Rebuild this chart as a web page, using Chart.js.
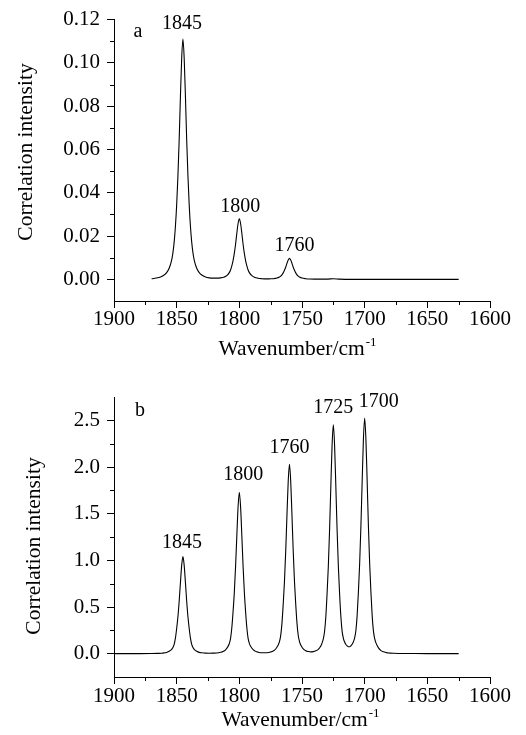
<!DOCTYPE html>
<html>
<head>
<meta charset="utf-8">
<script src="https://cdn.jsdelivr.net/npm/chart.js@4/dist/chart.umd.min.js"></script>
<style>
  html, body { margin: 0; padding: 0; background: #fff; }
  #wrap { position: relative; width: 526px; height: 735px; }
  canvas { position: absolute; left: 0; }
</style>
</head>
<body>
<div id="wrap">
  <canvas id="chartA" width="526" height="368" style="top:0"></canvas>
  <canvas id="chartB" width="526" height="367" style="top:368px"></canvas>
</div>
<script>
// tick values shared by both panels
const xTicks = [1900, 1850, 1800, 1750, 1700, 1650, 1600];
const yTicksA = [0, 0.02, 0.04, 0.06, 0.08, 0.10, 0.12];
const yTicksB = [0, 0.5, 1.0, 1.5, 2.0, 2.5];

// panel a : wavenumber / correlation intensity
const waveA = [
  1870, 1865, 1862, 1860, 1858, 1856, 1854,
  1853, 1852, 1851, 1850, 1849, 1848, 1847, 1846, 1845, 1844, 1843, 1842, 1841, 1840, 1839, 1838, 1837, 1836,
  1834, 1832, 1830, 1827, 1824, 1821, 1818, 1815, 1812, 1810, 1808,
  1807, 1806, 1805, 1804, 1803, 1802, 1801, 1800, 1799, 1798, 1797, 1796, 1795, 1794, 1793,
  1792, 1790, 1788, 1785, 1782, 1779, 1776, 1773, 1770, 1768,
  1767, 1766, 1765, 1764, 1763, 1762, 1761, 1760, 1759, 1758, 1757, 1756, 1755, 1754, 1753, 1752,
  1750, 1747, 1744, 1740, 1730, 1725, 1720, 1710, 1690, 1670, 1650, 1625
];
const intensityA = [
  0.0003, 0.0007, 0.0013, 0.002, 0.0031, 0.0051, 0.0089,
  0.0122, 0.0172, 0.0244, 0.0344, 0.0477, 0.0644, 0.0844, 0.1021, 0.111, 0.1021, 0.0844, 0.0644, 0.0477, 0.0344, 0.0244, 0.0172, 0.0122, 0.0089,
  0.0051, 0.0031, 0.002, 0.0011, 0.0007, 0.00055, 0.00055, 0.0007, 0.0011, 0.0017, 0.0031,
  0.0043, 0.0062, 0.0087, 0.012, 0.0162, 0.0213, 0.0258, 0.028, 0.0258, 0.0213, 0.0162, 0.012, 0.0087, 0.0062, 0.0043,
  0.0031, 0.0017, 0.001, 0.0005, 0.0003, 0.0002, 0.00024, 0.0003, 0.0006, 0.0011,
  0.0015, 0.0021, 0.003, 0.0042, 0.0056, 0.0074, 0.0089, 0.0097, 0.0089, 0.0074, 0.0056, 0.0042, 0.003, 0.0021, 0.0015, 0.0011,
  0.0006, 0.0003, 0.00014, 0.0001, 0.0001, 0.0003, 0.0001, 0, 0, 0, 0, 0
];
const peaksA = [1845, 1800, 1760];

// panel b
const waveB = [
  1900, 1880, 1870, 1865, 1862, 1860, 1858, 1856, 1854,
  1853, 1852, 1851, 1850, 1849, 1848, 1847, 1846, 1845, 1844, 1843, 1842, 1841, 1840, 1839, 1838, 1837, 1836,
  1834, 1832, 1830, 1827, 1824, 1821, 1818, 1815, 1813, 1811, 1809,
  1808, 1807, 1806, 1805, 1804, 1803, 1802, 1801, 1800, 1799, 1798, 1797, 1796, 1795, 1794, 1793, 1792, 1791,
  1789, 1787, 1785, 1782, 1780, 1778, 1775, 1773, 1771, 1769,
  1768, 1767, 1766, 1765, 1764, 1763, 1762, 1761, 1760, 1759, 1758, 1757, 1756, 1755, 1754, 1753, 1752, 1751,
  1749, 1747, 1745, 1743, 1741, 1739, 1737, 1736, 1735, 1734,
  1733, 1732, 1731, 1730, 1729, 1728, 1727, 1726, 1725, 1724, 1723, 1722, 1721, 1720, 1719, 1718, 1717, 1716,
  1715, 1714, 1713, 1712, 1711, 1710, 1709,
  1708, 1707, 1706, 1705, 1704, 1703, 1702, 1701, 1700, 1699, 1698, 1697, 1696, 1695, 1694, 1693, 1692, 1691,
  1689, 1687, 1685, 1682, 1680, 1677, 1673, 1668, 1660, 1650, 1640, 1625
];
const intensityB = [
  0, 0, 0.001, 0.0026, 0.0047, 0.0083, 0.0135, 0.025, 0.047,
  0.066, 0.099, 0.166, 0.27, 0.395, 0.562, 0.759, 0.946, 1.04, 0.946, 0.759, 0.562, 0.395, 0.27, 0.166, 0.099, 0.066, 0.047,
  0.026, 0.014, 0.0095, 0.0053, 0.0047, 0.0053, 0.007, 0.0145, 0.023, 0.0415, 0.078,
  0.109, 0.164, 0.277, 0.45, 0.657, 0.934, 1.263, 1.574, 1.73, 1.574, 1.263, 0.934, 0.657, 0.45, 0.277, 0.164, 0.11, 0.079,
  0.043, 0.0245, 0.016, 0.0097, 0.0094, 0.01, 0.018, 0.028, 0.05, 0.092,
  0.128, 0.193, 0.325, 0.528, 0.771, 1.096, 1.482, 1.847, 2.03, 1.847, 1.482, 1.097, 0.773, 0.53, 0.327, 0.195, 0.13, 0.094,
  0.052, 0.031, 0.023, 0.019, 0.022, 0.03, 0.046, 0.062, 0.081, 0.113,
  0.158, 0.237, 0.395, 0.64, 0.934, 1.326, 1.792, 2.233, 2.453, 2.233, 1.793, 1.327, 0.936, 0.643, 0.4, 0.242, 0.165, 0.125,
  0.098, 0.084, 0.0745, 0.0747, 0.085, 0.1, 0.128,
  0.17, 0.248, 0.41, 0.661, 0.963, 1.365, 1.844, 2.297, 2.523, 2.296, 1.843, 1.363, 0.96, 0.657, 0.405, 0.241, 0.161, 0.115,
  0.062, 0.033, 0.02, 0.0088, 0.0063, 0.004, 0.0025, 0.0015, 0.001, 0.0005, 0.0003, 0.0002
];
const peaksB = [1845, 1800, 1760, 1725, 1700];

const SERIF = '"Liberation Serif", "Times New Roman", serif';
Chart.defaults.font.family = SERIF;
Chart.defaults.color = '#000';

// minor ticks, peak labels, panel letter and axis titles
const decor = {
  id: 'decor',
  afterDraw(chart, args, o) {
    const { ctx, chartArea: ca, scales: { x, y } } = chart;
    ctx.save();
    ctx.strokeStyle = '#000';
    ctx.fillStyle = '#000';
    ctx.lineWidth = 1;

    // minor ticks halfway between the major ones
    ctx.beginPath();
    for (let i = 0; i < y.ticks.length - 1; i++) {
      const py = Math.round(y.getPixelForValue((y.ticks[i].value + y.ticks[i + 1].value) / 2)) + 0.5;
      ctx.moveTo(ca.left - 4, py);
      ctx.lineTo(ca.left, py);
    }
    for (let i = 0; i < x.ticks.length - 1; i++) {
      const px = Math.round(x.getPixelForValue((x.ticks[i].value + x.ticks[i + 1].value) / 2)) + 0.5;
      ctx.moveTo(px, ca.bottom);
      ctx.lineTo(px, ca.bottom + 4);
    }
    ctx.stroke();

    // peak labels
    ctx.font = '20px ' + SERIF;
    ctx.textAlign = 'center';
    ctx.textBaseline = 'middle';
    o.peaks.forEach((p, i) => {
      const v = o.values[o.waves.indexOf(p)];
      ctx.fillText(String(p), x.getPixelForValue(p) + o.dx[i], y.getPixelForValue(v) - o.dy[i]);
    });

    // panel letter
    ctx.fillText(o.panel, ca.left + o.panelAt[0], ca.top + o.panelAt[1]);

    // x title with superscript
    ctx.textAlign = 'left';
    ctx.font = '21.5px ' + SERIF;
    const main = 'Wavenumber/cm';
    const w1 = ctx.measureText(main).width;
    ctx.font = '13px ' + SERIF;
    const w2 = ctx.measureText('-1').width;
    const x0 = o.xTitle[0] - (w1 + w2) / 2;
    ctx.font = '21.5px ' + SERIF;
    ctx.fillText(main, x0, o.xTitle[1]);
    ctx.font = '13px ' + SERIF;
    ctx.fillText('-1', x0 + w1 + 1, o.xTitle[1] - 6);

    // y title
    ctx.font = '21.5px ' + SERIF;
    ctx.textAlign = 'center';
    ctx.translate(o.yTitle[0], o.yTitle[1]);
    ctx.rotate(-Math.PI / 2);
    ctx.fillText('Correlation intensity', 0, 0);
    ctx.restore();
  }
};

function makeChart(id, waves, values, yMin, yMax, yTicks, digits, padTop, axisH, labelPad, decorOpts) {
  return new Chart(document.getElementById(id), {
    type: 'line',
    data: {
      datasets: [{
        data: waves.map((w, i) => ({ x: w, y: values[i] })),
        borderColor: '#000',
        borderWidth: 1.1,
        pointRadius: 0,
        cubicInterpolationMode: 'monotone',
        fill: false
      }]
    },
    options: {
      responsive: false,
      animation: false,
      devicePixelRatio: 1,
      layout: { padding: { top: padTop, right: 36, bottom: 0, left: 0 } },
      plugins: { legend: { display: false }, tooltip: { enabled: false }, decor: decorOpts },
      scales: {
        x: {
          type: 'linear',
          reverse: true,
          min: 1600,
          max: 1900,
          afterBuildTicks: s => { s.ticks = xTicks.map(v => ({ value: v })); },
          afterFit: s => { s.height = axisH; },
          ticks: { font: { size: 21 }, padding: labelPad, maxRotation: 0, autoSkip: false, callback: v => String(v) },
          grid: { drawOnChartArea: false, color: '#000', tickLength: 7, tickWidth: 1 },
          border: { color: '#000', width: 1 }
        },
        y: {
          min: yMin,
          max: yMax,
          afterBuildTicks: s => { s.ticks = yTicks.map(v => ({ value: v })); },
          afterFit: s => { s.width = 114; },
          ticks: { font: { size: 21 }, padding: 7, callback: v => Number(v).toFixed(digits) },
          grid: { drawOnChartArea: false, color: '#000', tickLength: 7, tickWidth: 1 },
          border: { color: '#000', width: 1 }
        }
      }
    },
    plugins: [decor]
  });
}

makeChart('chartA', waveA, intensityA, -0.01, 0.12, yTicksA, 2, 17, 67, -1, {
  waves: waveA, values: intensityA, peaks: peaksA,
  dx: [-1, 1, 5], dy: [15, 12, 13],
  panel: 'a', panelAt: [24, 12],
  xTitle: [297, 349], yTitle: [26, 152]
});

makeChart('chartB', waveB, intensityB, -0.25, 2.75, yTicksB, 1, 29, 58, 0, {
  waves: waveB, values: intensityB, peaks: peaksB,
  dx: [-1, 4, 0, 0, 14], dy: [14, 17, 16, 17, 16],
  panel: 'b', panelAt: [26, 14],
  xTitle: [300, 352], yTitle: [34, 178]
});
</script>
</body>
</html>
